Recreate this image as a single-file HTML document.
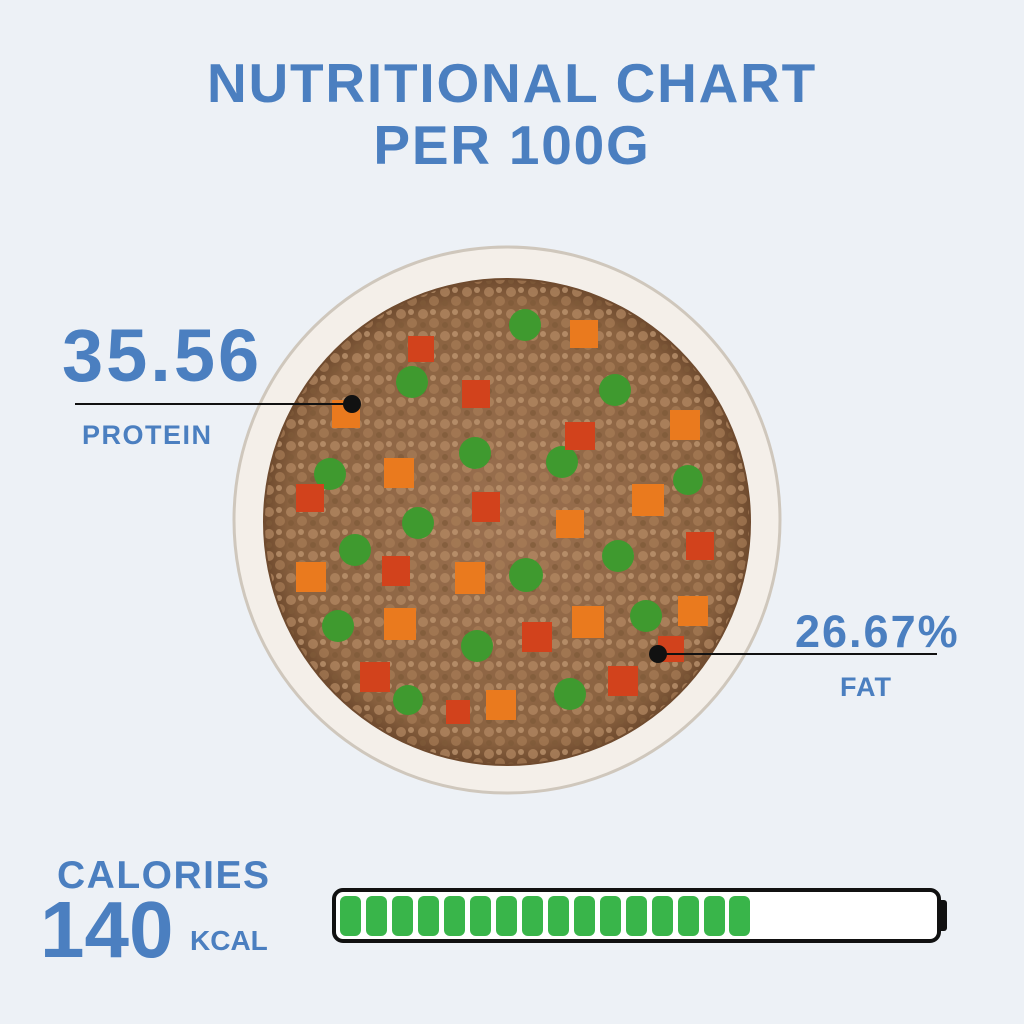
<!DOCTYPE html>
<html><head><style>
body{margin:0;width:1024px;height:1024px;background:#edf1f6;font-family:"Liberation Sans",sans-serif;position:relative;overflow:hidden}
.t{position:absolute;color:#4b7fc0;font-weight:bold;white-space:nowrap}
</style></head><body>
<div class="t" style="left:0;width:1024px;text-align:center;top:52px;font-size:55px;line-height:62px;letter-spacing:1.8px">NUTRITIONAL CHART<br>PER 100G</div>
<svg width="1024" height="1024" style="position:absolute;left:0;top:0">
<defs>
<radialGradient id="food" cx="50%" cy="50%" r="50%">
<stop offset="0" stop-color="#9a7050"/><stop offset="0.9" stop-color="#8a6240"/><stop offset="1" stop-color="#6e4a2e"/></radialGradient>
<pattern id="crumb" width="22" height="22" patternUnits="userSpaceOnUse">
<circle cx="5" cy="6" r="5" fill="#b58a64"/><circle cx="16" cy="15" r="5" fill="#a77c56"/><circle cx="15" cy="4" r="3" fill="#c39b75"/><circle cx="5" cy="17" r="3" fill="#7e5a38"/></pattern>
</defs>
<circle cx="507" cy="520" r="273" fill="#f4efe9" stroke="#cfc7bc" stroke-width="3"/>
<circle cx="507" cy="522" r="244" fill="url(#food)"/>
<circle cx="507" cy="522" r="242" fill="url(#crumb)" opacity="0.7"/>
<g fill="#3f9a2f">
<circle cx="525" cy="325" r="16"/><circle cx="412" cy="382" r="16"/><circle cx="615" cy="390" r="16"/><circle cx="475" cy="453" r="16"/><circle cx="562" cy="462" r="16"/><circle cx="330" cy="474" r="16"/><circle cx="688" cy="480" r="15"/><circle cx="418" cy="523" r="16"/><circle cx="355" cy="550" r="16"/><circle cx="618" cy="556" r="16"/><circle cx="526" cy="575" r="17"/><circle cx="338" cy="626" r="16"/><circle cx="646" cy="616" r="16"/><circle cx="477" cy="646" r="16"/><circle cx="408" cy="700" r="15"/><circle cx="570" cy="694" r="16"/></g>
<g fill="#ea7a1e">
<rect x="570" y="320" width="28" height="28"/><rect x="408" y="336" width="26" height="26" fill="#d2421c"/><rect x="462" y="380" width="28" height="28" fill="#d2421c"/><rect x="332" y="400" width="28" height="28"/><rect x="565" y="422" width="30" height="28" fill="#d2421c"/><rect x="670" y="410" width="30" height="30"/><rect x="384" y="458" width="30" height="30"/><rect x="296" y="484" width="28" height="28" fill="#d2421c"/><rect x="472" y="492" width="28" height="30" fill="#d2421c"/><rect x="632" y="484" width="32" height="32"/><rect x="556" y="510" width="28" height="28"/><rect x="686" y="532" width="28" height="28" fill="#d2421c"/><rect x="382" y="556" width="28" height="30" fill="#d2421c"/><rect x="455" y="562" width="30" height="32"/><rect x="296" y="562" width="30" height="30"/><rect x="384" y="608" width="32" height="32"/><rect x="572" y="606" width="32" height="32"/><rect x="678" y="596" width="30" height="30"/><rect x="522" y="622" width="30" height="30" fill="#d2421c"/><rect x="658" y="636" width="26" height="26" fill="#d2421c"/><rect x="360" y="662" width="30" height="30" fill="#d2421c"/><rect x="608" y="666" width="30" height="30" fill="#d2421c"/><rect x="486" y="690" width="30" height="30"/><rect x="446" y="700" width="24" height="24" fill="#d2421c"/></g>
<line x1="75" y1="404" x2="352" y2="404" stroke="#111" stroke-width="2"/>
<circle cx="352" cy="404" r="9" fill="#111"/>
<line x1="658" y1="654" x2="937" y2="654" stroke="#111" stroke-width="2"/>
<circle cx="658" cy="654" r="9" fill="#111"/>
<rect x="334" y="890" width="605" height="51" rx="9" fill="#fff" stroke="#111" stroke-width="4"/>
<rect x="938" y="900" width="9" height="31" rx="3" fill="#111"/>
<g fill="#39b54a">
<rect x="340" y="896" width="21" height="40" rx="6"/><rect x="366" y="896" width="21" height="40" rx="6"/><rect x="392" y="896" width="21" height="40" rx="6"/><rect x="418" y="896" width="21" height="40" rx="6"/><rect x="444" y="896" width="21" height="40" rx="6"/><rect x="470" y="896" width="21" height="40" rx="6"/><rect x="496" y="896" width="21" height="40" rx="6"/><rect x="522" y="896" width="21" height="40" rx="6"/><rect x="548" y="896" width="21" height="40" rx="6"/><rect x="574" y="896" width="21" height="40" rx="6"/><rect x="600" y="896" width="21" height="40" rx="6"/><rect x="626" y="896" width="21" height="40" rx="6"/><rect x="652" y="896" width="21" height="40" rx="6"/><rect x="678" y="896" width="21" height="40" rx="6"/><rect x="704" y="896" width="21" height="40" rx="6"/><rect x="729" y="896" width="21" height="40" rx="6"/></g>
</svg>
<div class="t" style="left:62px;top:318px;font-size:74px;line-height:76px;letter-spacing:3px">35.56</div>
<div class="t" style="left:82px;top:420px;font-size:27px;line-height:30px;letter-spacing:1.5px">PROTEIN</div>
<div class="t" style="left:795px;top:608px;font-size:45px;line-height:48px;letter-spacing:2px">26.67%</div>
<div class="t" style="left:57px;top:856px;font-size:39px;line-height:40px;letter-spacing:1.5px">CALORIES</div>
<div class="t" style="left:840px;top:672px;font-size:27px;line-height:30px;letter-spacing:1px">FAT</div>
<div class="t" style="left:40px;top:890px;font-size:80px;line-height:80px;letter-spacing:0px">140</div>
<div class="t" style="left:190px;top:926px;font-size:28px;line-height:30px">KCAL</div>
</body></html>
